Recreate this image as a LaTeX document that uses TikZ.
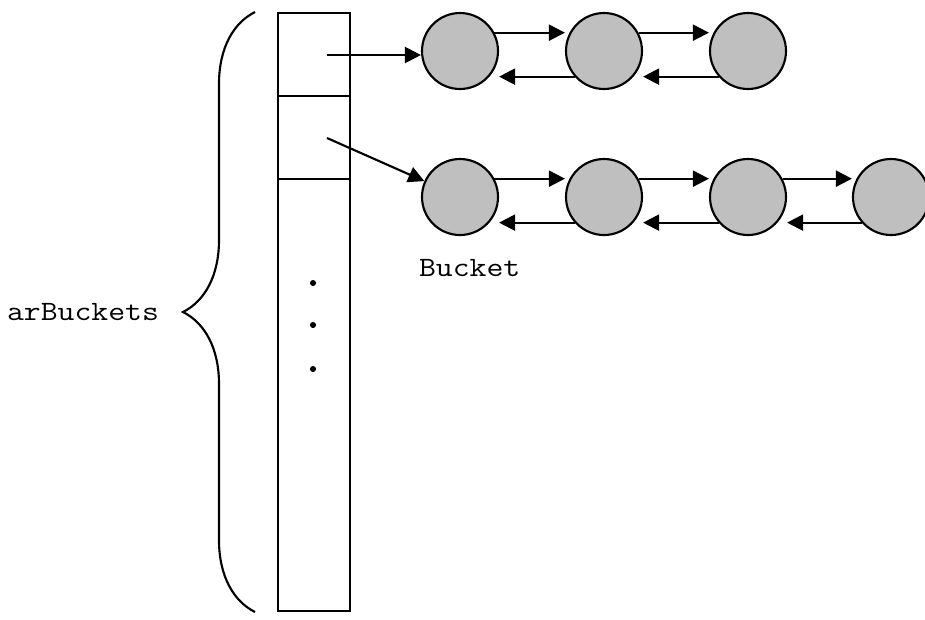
\documentclass[tikz,border=0pt]{standalone}
\usetikzlibrary{arrows.meta,decorations.pathreplacing}
\newcommand{\codetext}[1]{\scalebox{1.17}[1]{#1}}
\begin{document}
\begin{tikzpicture}[x=0.75pt,y=-0.75pt,line width=1.6pt,
        >={Triangle[length=12pt,width=12pt]},
        bucket/.style={circle,draw,fill=black!25,minimum size=57pt,inner sep=0pt},
        link/.style={->},
        code/.style={inner sep=0pt,font=\fontsize{21}{25}\ttfamily}]
        \useasboundingbox (0,0) rectangle (925,619);

        % draw the array of buckets
        \draw (278,13) rectangle (350,611);
        \draw (278,96) -- (350,96)
              (278,179) -- (350,179);
        % dots for the rest of the array
        \foreach \y in {283,325,369}
                \fill (313,\y) circle (2.3pt);

        % draw the brace and its name
        \draw[decorate,decoration={brace,amplitude=54pt}] (255,612) -- (255,12);
        \node[code,anchor=east] (arr) at (160,312) {\codetext{arBuckets}};

        % draw the two chains
        \foreach \i/\x in {1/460,2/604,3/748}
                \node[bucket] (a\i) at (\x,51) {};
        \foreach \i/\x in {1/460,2/604,3/748,4/891}
                \node[bucket] (b\i) at (\x,197) {};
        \node[code,anchor=west] (bkt) at (418,268) {\codetext{Bucket}};

        % next and prev links
        \foreach \i/\j in {1/2,2/3} {
                \draw[link] (a\i.28) -- (a\i.28 -| a\j.west);
                \draw[link] (a\j.221) -- (a\j.221 -| a\i.east);
        }
        \foreach \i/\j in {1/2,2/3,3/4} {
                \draw[link] (b\i.28) -- (b\i.28 -| b\j.west);
                \draw[link] (b\j.221) -- (b\j.221 -| b\i.east);
        }

        % from the array to the chains
        \coordinate (p1) at (327,55);
        \coordinate (p2) at (327,138);
        \draw[link] (p1) -- (p1 -| a1.west);
        \draw[link] (p2) -- (b1.156);
\end{tikzpicture}
\end{document}
